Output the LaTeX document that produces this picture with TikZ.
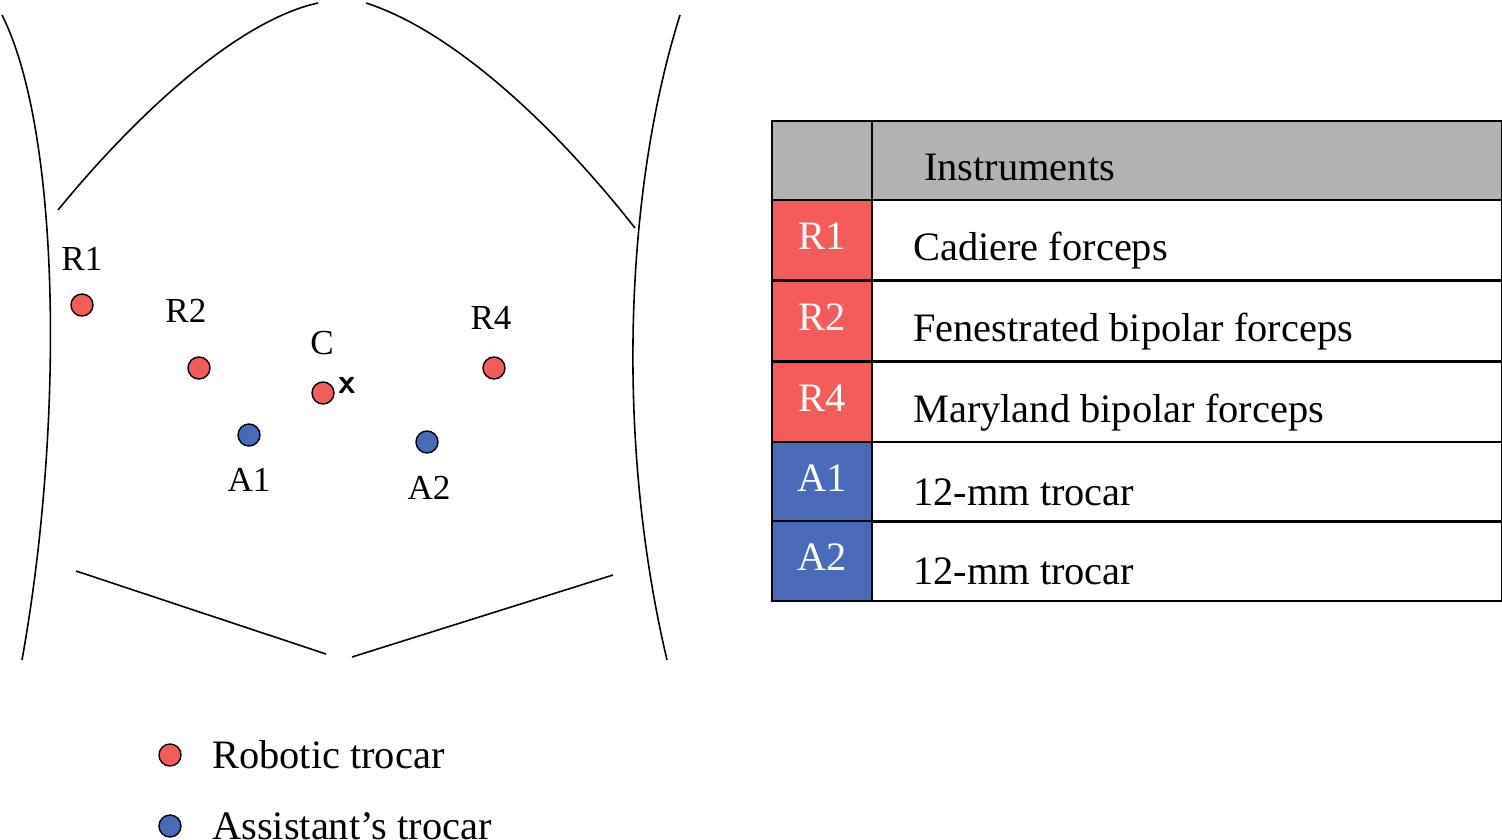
\documentclass[tikz,border=0pt]{standalone}
\usepackage{fontspec}
\setmainfont{Liberation Serif}
\definecolor{robred}{RGB}{244,91,91}
\definecolor{asblue}{RGB}{73,106,184}
\definecolor{headgray}{RGB}{178,178,178}
\tikzset{
  port/.style={circle,draw=black,line width=0.8pt,minimum size=0.44cm,inner sep=0pt},
  lbl/.style={font=\fontsize{20}{20}\selectfont},
  cell/.style={draw=black,line width=1pt,anchor=north west,inner sep=0pt},
  txt/.style={font=\fontsize{23}{23}\selectfont,anchor=west}
}
\begin{document}
\begin{tikzpicture}[x=0.02cm,y=-0.02cm]
    \useasboundingbox (0,0) rectangle (1502,839);
    % body outline
    \draw[line width=0.9pt] (2,15) .. controls (60,130) and (65,420) .. (22,660);
    \draw[line width=0.9pt] (680,15) .. controls (625,190) and (615,440) .. (667,660);
    \draw[line width=0.9pt] (58,210) .. controls (140,110) and (240,20) .. (318,3);
    \draw[line width=0.9pt] (366,3) .. controls (450,30) and (550,120) .. (635,228);
    \draw[line width=0.9pt] (76,571) -- (326,654);
    \draw[line width=0.9pt] (352,657) -- (613,575);

    % trocars
    \node[port,fill=robred] (r1) at (82,305) {};
    \node[port,fill=robred] (r2) at (199,368) {};
    \node[port,fill=robred] (c) at (323,393) {};
    \node[port,fill=robred] (r4) at (494,368) {};
    \node[port,fill=asblue] (a1) at (249,435) {};
    \node[port,fill=asblue] (a2) at (427,442) {};
    \node[lbl] at (82,259) {R1};
    \node[lbl] at (186,311) {R2};
    \node[lbl] at (322,343) {C};
    \node[lbl] at (491,318) {R4};
    \node[lbl] at (249,480) {A1};
    \node[lbl] at (429,488) {A2};
    \node[font=\sffamily\bfseries\fontsize{20}{20}\selectfont] (cx) at (347,385) {x};

    % legend
    \node[port,fill=robred] (lr) at (170,755) {};
    \node[txt] at (206,755) {Robotic trocar};
    \node[port,fill=asblue] (la) at (170,826) {};
    \node[txt] at (206,826) {Assistant’s trocar};

    % table
    \node[cell,fill=headgray,minimum width=100*0.02cm,minimum height=79*0.02cm] (h0) at (771,120) {};
    \node[cell,fill=headgray,minimum width=630*0.02cm,minimum height=79*0.02cm] (h1) at (871,120) {};
    \node[txt] at (918,167) {Instruments};
    \foreach \k/\y/\col/\name/\inst in {1/199/robred/R1/Cadiere forceps,
        2/280/robred/R2/Fenestrated bipolar forceps,
        3/361/robred/R4/Maryland bipolar forceps,
        4/441/asblue/A1/12-mm trocar,
        5/520/asblue/A2/12-mm trocar} {
      \node[cell,fill=\col,minimum width=100*0.02cm,minimum height=80*0.02cm] (k\k) at (771,\y) {};
      \node[cell,minimum width=630*0.02cm,minimum height=80*0.02cm] (i\k) at (871,\y) {};
      \node[txt,text=white,anchor=center] at ([yshift=2]k\k.center) {\name};
      \node[txt] at ([xshift=0.72cm,yshift=-6]i\k.west) {\inst};
    }
\end{tikzpicture}
\end{document}
